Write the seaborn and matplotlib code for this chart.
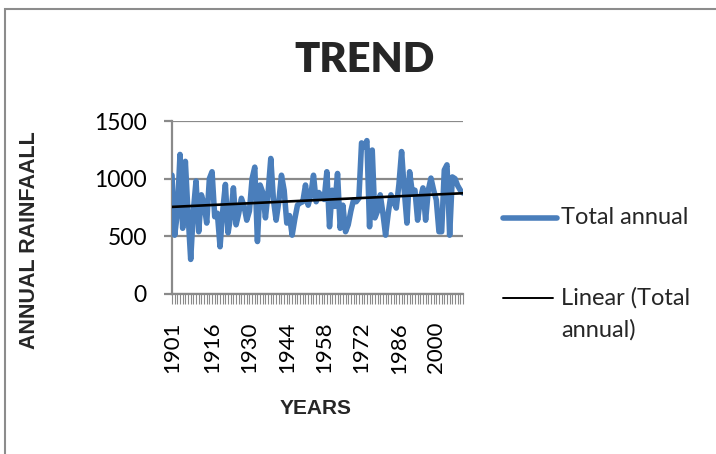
import numpy as np
import pandas as pd
import matplotlib
matplotlib.use("Agg")
import matplotlib.pyplot as plt
from matplotlib.lines import Line2D
from matplotlib.patches import Rectangle
import seaborn as sns

# Annual rainfall series, 1901-2010
years = list(range(1901, 2011))
rainfall = [
    1030, 510, 700, 1210, 570, 1150, 700, 300, 720, 980,
    540, 860, 780, 615, 1000, 1060, 670, 700, 410, 720,
    950, 530, 680, 920, 600, 700, 830, 760, 640, 720,
    1000, 1100, 455, 945, 880, 660, 880, 1175, 815, 640,
    800, 1030, 900, 615, 680, 510, 650, 770, 790, 800,
    945, 770, 860, 1030, 800, 880, 850, 820, 1060, 583,
    900, 760, 1045, 570, 770, 540, 600, 720, 815, 800,
    830, 1310, 1275, 1330, 583, 1248, 660, 720, 860, 700,
    510, 700, 860, 800, 745, 950, 1235, 900, 615, 1060,
    880, 900, 640, 820, 920, 640, 900, 1005, 900, 815,
    540, 540, 1075, 1120, 510, 1015, 1000, 940, 900, 875,
]
year_ticks = [1901, 1916, 1930, 1944, 1958, 1972, 1986, 2000]
y_ticks = [0, 500, 1000, 1500]

df = pd.DataFrame({"year": years, "rain": rainfall})

sns.set_theme(style="white")
plt.rcParams["font.family"] = ["Lato", "DejaVu Sans"]

W, H = 716, 454
fig = plt.figure(figsize=(W / 100, H / 100), dpi=100)
fig.patch.set_facecolor("white")

# outer chart border
fig.add_artist(Rectangle((5 / W, 0 - 0.1), 1.2, (1 - 9 / H) + 0.1,
                         transform=fig.transFigure, fill=False,
                         edgecolor="#8c8c8c", linewidth=1.5))

ax = fig.add_axes([172 / W, 1 - 294 / H, (463 - 172) / W, (294 - 121) / H])

grid_c = "#8a8a8a"
blue = "#4a7ebb"

sns.lineplot(data=df, x="year", y="rain", ax=ax, color=blue,
             linewidth=4.0, solid_joinstyle="round", solid_capstyle="round",
             zorder=3)
sns.regplot(data=df, x="year", y="rain", ax=ax, scatter=False, ci=None,
            truncate=True, line_kws={"color": "black", "linewidth": 1.9,
                                     "zorder": 4})

ax.set_xlim(1901, 2010)
ax.set_ylim(0, 1500)
ax.set_yticks(y_ticks)
ax.set_yticklabels([str(v) for v in y_ticks])
ax.set_xticks(year_ticks)
ax.set_xticklabels([str(v) for v in year_ticks], rotation=90)
ax.set_xticks(years, minor=True)

ax.grid(axis="y", color=grid_c, linewidth=1.6, zorder=0)
ax.set_axisbelow(True)
for side in ("top", "right"):
    ax.spines[side].set_visible(False)
for side in ("left", "bottom"):
    ax.spines[side].set_color(grid_c)
    ax.spines[side].set_linewidth(1.6)

ax.tick_params(axis="y", which="major", length=6, width=1.6, color=grid_c,
               pad=12, labelsize=16.5, labelcolor="black", left=True)
ax.tick_params(axis="x", which="major", length=7, width=0.8, color=grid_c,
               pad=13, labelsize=16, labelcolor="black", bottom=True)
ax.tick_params(axis="x", which="minor", length=7, width=0.8, color=grid_c,
               bottom=True)
ax.set_xlabel("")
ax.set_ylabel("")

# title and axis titles
fig.text(365 / W, 1 - 60 / H, "TREND", ha="center", va="center",
         fontsize=30, fontweight="heavy", family=["Lato", "DejaVu Sans"])
fig.text(30 / W, 1 - 240 / H, "ANNUAL RAINFAALL", ha="center", va="center",
         rotation=90, fontsize=15.5, fontweight="bold",
         family=["Liberation Sans", "DejaVu Sans"])
fig.text(316 / W, 1 - 408 / H, "YEARS", ha="center", va="center",
         fontsize=15, fontweight="bold",
         family=["Liberation Sans", "DejaVu Sans"])

# legend
fig.add_artist(Line2D([503 / W, 557 / W], [1 - 218 / H, 1 - 218 / H],
                      transform=fig.transFigure, color=blue, linewidth=4.0,
                      solid_capstyle="round"))
fig.text(561 / W, 1 - 218 / H, "Total annual", ha="left", va="center",
         fontsize=17)
fig.add_artist(Line2D([503 / W, 553 / W], [1 - 298 / H, 1 - 298 / H],
                      transform=fig.transFigure, color="black", linewidth=1.4))
fig.text(561 / W, 1 - 298 / H, "Linear (Total", ha="left", va="center",
         fontsize=17)
fig.text(561 / W, 1 - 330 / H, "annual)", ha="left", va="center",
         fontsize=17)

fig.savefig("out.png", dpi=100)
